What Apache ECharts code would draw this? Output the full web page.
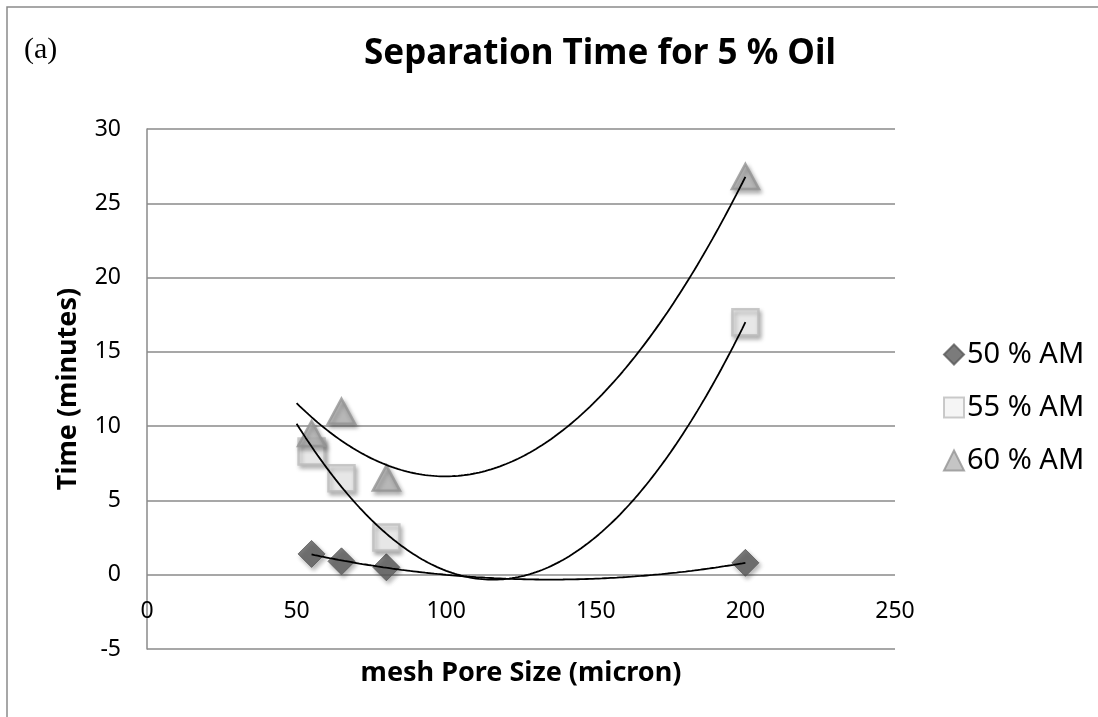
<!DOCTYPE html>
<html>
<head>
<meta charset="utf-8">
<script src="https://cdn.jsdelivr.net/npm/echarts@6/dist/echarts.min.js"></script>
<style>
html,body{margin:0;padding:0;background:#fff;}
#chart{width:1098px;height:717px;}
</style>
</head>
<body>
<div id="chart"></div>
<script>
// ---- data ----
const poreSizes = [55, 65, 80, 200];
const am50 = [1.4, 0.9, 0.5, 0.8];
const am55 = [8.3, 6.5, 2.5, 17.0];
const am60 = [9.5, 11.0, 6.5, 26.8];
const seriesNames = ['50 % AM', '55 % AM', '60 % AM'];
const trendStart = [55, 50, 50];
const trendEnd = [200, 200, 200];
const xTicks = [0, 50, 100, 150, 200, 250];
const yTicks = [-5, 0, 5, 10, 15, 20, 25, 30];

// least-squares quadratic trendline (as the spreadsheet does)
function quadFit(xs, ys) {
  const S = [0,0,0,0,0], T = [0,0,0];
  for (let i = 0; i < xs.length; i++) {
    let p = 1;
    for (let k = 0; k < 5; k++) { S[k] += p; if (k < 3) T[k] += ys[i] * p; p *= xs[i]; }
  }
  const M = [[S[0],S[1],S[2],T[0]],[S[1],S[2],S[3],T[1]],[S[2],S[3],S[4],T[2]]];
  for (let c = 0; c < 3; c++) {
    for (let r = c + 1; r < 3; r++) {
      const f = M[r][c] / M[c][c];
      for (let k = c; k < 4; k++) M[r][k] -= f * M[c][k];
    }
  }
  const s = [0,0,0];
  for (let r = 2; r >= 0; r--) {
    let v = M[r][3];
    for (let k = r + 1; k < 3; k++) v -= M[r][k] * s[k];
    s[r] = v / M[r][r];
  }
  return s;
}
function trend(ys, x0, x1) {
  const c = quadFit(poreSizes, ys);
  const pts = [];
  for (let x = x0; x <= x1; x += 1) pts.push([x, c[0] + c[1]*x + c[2]*x*x]);
  return pts;
}

const allY = [am50, am55, am60];
const symbols = ['diamond', 'rect', 'triangle'];
const symbolSizes = [27, 26, [27, 25]];
const styles = [
  {color: '#5a5a5a', borderColor: '#5a5a5a', borderWidth: 1},
  {color: '#f3f3f3', borderColor: '#bdbdbd', borderWidth: 2.5},
  {color: '#b6b6b6', borderColor: '#949494', borderWidth: 2.5}
];
const FONT = 'Noto Sans';

const series = [];
allY.forEach((ys, i) => {
  series.push({
    name: seriesNames[i], type: 'scatter', symbol: symbols[i], symbolSize: symbolSizes[i],
    data: poreSizes.map((x, j) => [x, ys[j]]),
    itemStyle: Object.assign({shadowBlur: 4, shadowColor: 'rgba(0,0,0,0.35)', shadowOffsetX: 2, shadowOffsetY: 3}, styles[i]),
    z: 2
  });
});
allY.forEach((ys, i) => {
  series.push({
    name: 'trend' + i, type: 'line', showSymbol: false, silent: true,
    data: trend(ys, trendStart[i], trendEnd[i]),
    lineStyle: {color: '#000', width: 1.8}, z: 5
  });
});

const chart = echarts.init(document.getElementById('chart'));
chart.setOption({
  animation: false,
  backgroundColor: '#fff',
  grid: {left: 147, top: 129, right: 203, bottom: 68},
  xAxis: {
    type: 'value', min: 0, max: 250, interval: 50,
    axisLine: {show: false},
    axisTick: {show: false}, splitLine: {show: false},
    axisLabel: {margin: -49, fontSize: 23, color: '#000', fontFamily: FONT, showMinLabel: true, showMaxLabel: true,
      formatter: v => xTicks.indexOf(v) >= 0 ? String(v) : ''}
  },
  yAxis: {
    type: 'value', min: -5, max: 30, interval: 5,
    axisLine: {show: true, onZero: false, lineStyle: {color: '#8a8a8a', width: 1.5}},
    axisTick: {show: false},
    splitLine: {show: true, lineStyle: {color: '#8a8a8a', width: 1.5}},
    axisLabel: {margin: 26, fontSize: 23, color: '#000', fontFamily: FONT,
      formatter: v => yTicks.indexOf(v) >= 0 ? String(v) : ''}
  },
  legend: {
    data: seriesNames.map((n, i) => ({name: n, icon: symbols[i]})),
    orient: 'vertical', left: 938, top: 335, itemWidth: 20, itemHeight: 20, itemGap: 24,
    textStyle: {fontSize: 29, color: '#000', fontFamily: FONT, padding: [0,0,0,-2]}
  },
  graphic: [
    {type: 'rect', shape: {x: 7, y: 7, width: 1200, height: 800}, style: {fill: 'none', stroke: '#8a8a8a', lineWidth: 1.5}, silent: true},
    {type: 'text', x: 24, y: 50, style: {text: '(a)', font: '30px "Liberation Serif"', fill: '#000', textVerticalAlign: 'middle'}},
    {type: 'text', x: 600, y: 54, style: {text: 'Separation Time for 5 % Oil', font: 'bold 35px "Noto Sans"', fill: '#000', textAlign: 'center', textVerticalAlign: 'middle'}},
    {type: 'text', x: 521, y: 673, style: {text: 'mesh Pore Size (micron)', font: 'bold 27px "Noto Sans"', fill: '#000', textAlign: 'center', textVerticalAlign: 'middle'}},
    {type: 'text', x: 68, y: 389, rotation: Math.PI / 2, style: {text: 'Time (minutes)', font: 'bold 27px "Noto Sans"', fill: '#000', textAlign: 'center', textVerticalAlign: 'middle'}}
  ],
  series: series
});
</script>
</body>
</html>
